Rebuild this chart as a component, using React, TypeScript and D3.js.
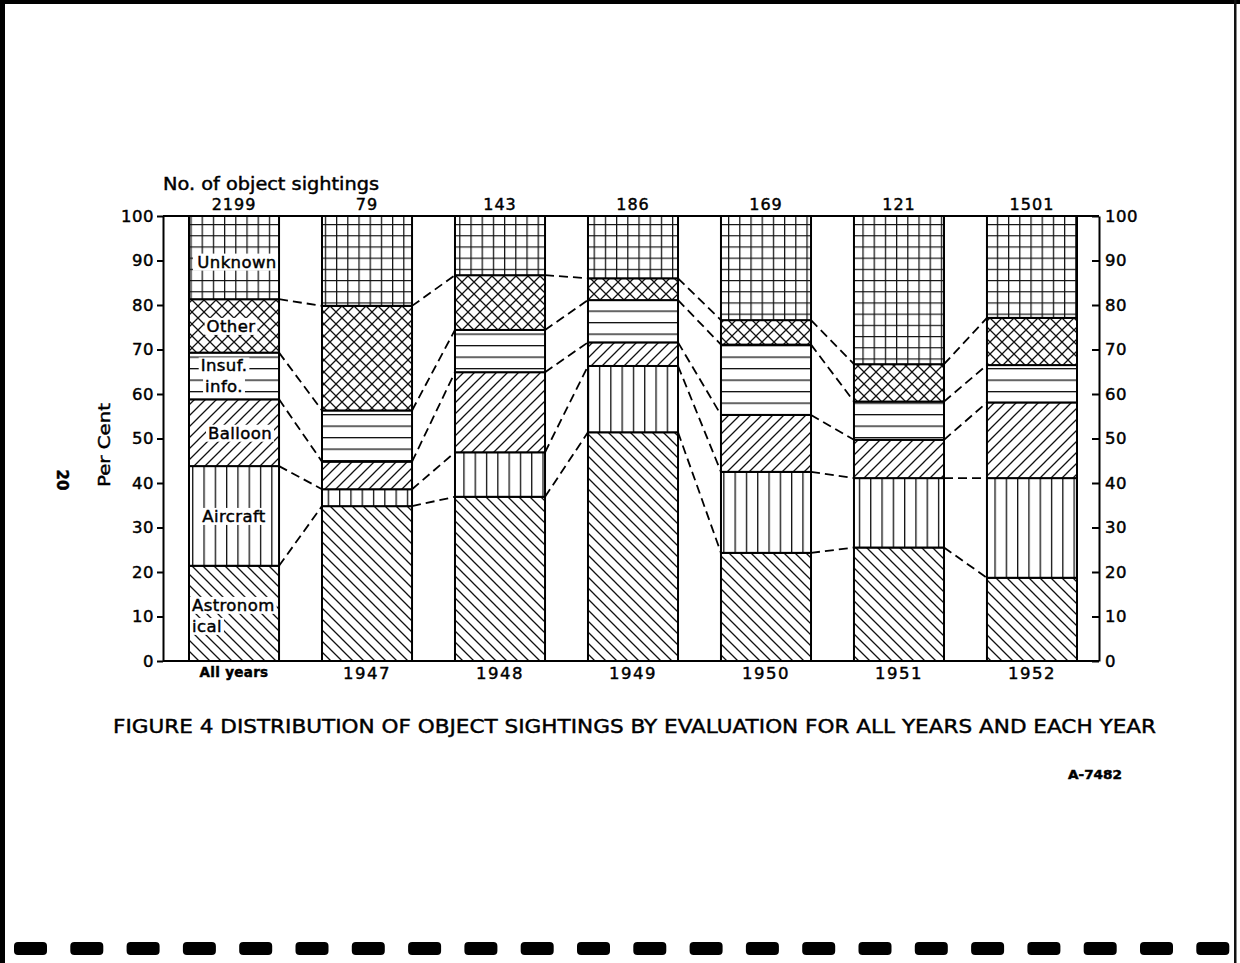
import { useEffect, useRef } from "react"
import * as d3 from "d3"

const categories = ["All years", "1947", "1948", "1949", "1950", "1951", "1952"]
const sightings = [2199, 79, 143, 186, 169, 121, 1501]
const evaluations = ["astronomical", "aircraft", "balloon", "insufficient", "other", "unknown"]

// per cent of sightings in each evaluation, bottom to top
const astronomical = [21.4, 34.8, 36.9, 51.4, 24.3, 25.5, 18.7]
const aircraft = [22.4, 3.8, 10.0, 14.9, 18.2, 15.6, 22.4]
const balloon = [15.0, 6.2, 18.0, 5.3, 12.8, 8.6, 17.0]
const insufficient = [10.5, 11.5, 9.5, 9.5, 15.8, 8.6, 8.4]
const other = [12.0, 23.5, 12.3, 4.9, 5.5, 8.4, 10.6]
const unknown = [18.7, 20.2, 13.3, 14.0, 23.4, 33.3, 22.9]

const yTicks = [0, 10, 20, 30, 40, 50, 60, 70, 80, 90, 100]

// labels written inside the "All years" bar
const segmentLabels = [
  ["Astronom", "ical"],
  ["Aircraft"],
  ["Balloon"],
  ["Insuf.", "info."],
  ["Other"],
  ["Unknown"],
]

const FONT = "'DejaVu Sans', 'Liberation Sans', sans-serif"

export default function App() {
  const svgRef = useRef<SVGSVGElement>(null)

  useEffect(() => {
    if (!svgRef.current) return
    const svg = d3.select(svgRef.current)
    svg.selectAll("*").remove()

    // lettering-guide text is heavier than the plain font
    svg.append("style").text("text { stroke: #000; stroke-width: 0.45px; }")

    const rows = categories.map((c, i) => ({
      category: c,
      astronomical: astronomical[i],
      aircraft: aircraft[i],
      balloon: balloon[i],
      insufficient: insufficient[i],
      other: other[i],
      unknown: unknown[i],
    }))

    const x = d3.scaleBand().domain(categories).range([189, 1077]).paddingInner(0.323).paddingOuter(0)
    const y = d3.scaleLinear().domain([0, 100]).range([661, 216])
    const bw = x.bandwidth()
    const left = 163
    const right = 1099

    const stack = d3.stack<any>().keys(evaluations)
    const layers = stack(rows)

    // hatch patterns
    const defs = svg.append("defs")
    const pattern = (id: string, w: number, h: number, d: string) => {
      const p = defs
        .append("pattern")
        .attr("id", id)
        .attr("patternUnits", "userSpaceOnUse")
        .attr("width", w)
        .attr("height", h)
      p.append("rect").attr("width", w).attr("height", h).attr("fill", "#fff")
      p.append("path").attr("d", d).attr("stroke", "#111").attr("stroke-width", 1.3).attr("fill", "none")
    }
    pattern("astronomical", 11, 11, "M0,0L11,11M-2,9L2,13M9,-2L13,2")
    pattern("aircraft", 11.3, 10, "M0.65,0V10")
    pattern("balloon", 11, 11, "M0,11L11,0M-2,2L2,-2M9,13L13,9")
    pattern("insufficient", 10, 11.5, "M0,0.65H10")
    pattern("other", 12, 12, "M0,0L12,12M12,0L0,12")
    pattern("unknown", 11.2, 11.2, "M0,0.6H11.2M0.6,0V11.2")

    // page edges
    svg.append("rect").attr("width", 1240).attr("height", 963).attr("fill", "#fff")
    svg.append("rect").attr("x", 0).attr("y", 0).attr("width", 5).attr("height", 963).attr("fill", "#000")
    svg.append("rect").attr("x", 0).attr("y", 0).attr("width", 1240).attr("height", 4).attr("fill", "#000")
    svg.append("rect").attr("x", 1234).attr("y", 0).attr("width", 2.5).attr("height", 963).attr("fill", "#111")

    // film strip marks along the bottom
    svg
      .append("g")
      .selectAll("rect")
      .data(d3.range(22))
      .enter()
      .append("rect")
      .attr("x", (i) => 14 + i * 56.3)
      .attr("y", 942)
      .attr("width", 33)
      .attr("height", 13)
      .attr("rx", 4)
      .attr("fill", "#000")

    // frame
    const g = svg.append("g")
    g.append("line").attr("x1", left).attr("x2", right).attr("y1", y(100)).attr("y2", y(100)).attr("stroke", "#000").attr("stroke-width", 2)
    g.append("line").attr("x1", left).attr("x2", right).attr("y1", y(0)).attr("y2", y(0)).attr("stroke", "#000").attr("stroke-width", 2)

    const leftAxis = g
      .append("g")
      .attr("transform", `translate(${left},0)`)
      .call(d3.axisLeft(y).tickValues(yTicks).tickSize(6).tickSizeOuter(0).tickPadding(3))
    const rightAxis = g
      .append("g")
      .attr("transform", `translate(${right},0)`)
      .call(d3.axisRight(y).tickValues(yTicks).tickSize(-7).tickSizeOuter(0).tickPadding(6))
    for (const ax of [leftAxis, rightAxis]) {
      ax.select(".domain").attr("stroke", "#000").attr("stroke-width", 2)
      ax.selectAll(".tick line").attr("stroke", "#000").attr("stroke-width", 2)
      ax.selectAll(".tick text")
        .attr("fill", "#000")
        .attr("font-family", FONT)
        .attr("font-size", 16.5)
        .attr("letter-spacing", 0.5)
    }

    // dashed connectors between segment boundaries of neighbouring bars
    const connectors: { x1: number; y1: number; x2: number; y2: number }[] = []
    layers.slice(0, 5).forEach((layer) => {
      for (let i = 0; i < categories.length - 1; i++) {
        connectors.push({
          x1: (x(categories[i]) as number) + bw,
          y1: y(layer[i][1]),
          x2: x(categories[i + 1]) as number,
          y2: y(layer[i + 1][1]),
        })
      }
    })
    g.append("g")
      .selectAll("line")
      .data(connectors)
      .enter()
      .append("line")
      .attr("x1", (d) => d.x1)
      .attr("y1", (d) => d.y1)
      .attr("x2", (d) => d.x2)
      .attr("y2", (d) => d.y2)
      .attr("stroke", "#000")
      .attr("stroke-width", 1.8)
      .attr("stroke-dasharray", "9,5")

    // stacked segments
    layers.forEach((layer) => {
      g.append("g")
        .selectAll("rect")
        .data(layer)
        .enter()
        .append("rect")
        .attr("x", (d: any) => x(d.data.category) as number)
        .attr("y", (d) => y(d[1]))
        .attr("width", bw)
        .attr("height", (d) => y(d[0]) - y(d[1]))
        .attr("fill", `url(#${layer.key})`)
        .attr("stroke", "#000")
        .attr("stroke-width", 2)
    })

    // segment names in the first bar, on white knock-out boxes
    const x0 = x(categories[0]) as number
    const labelG = g.append("g")
    layers.forEach((layer, k) => {
      const lines = segmentLabels[k]
      const mid = y((layer[0][0] + layer[0][1]) / 2)
      const lh = 21
      lines.forEach((txt, j) => {
        const shift = k === 5 ? 4 : k === 0 ? 2 : 0
        const ty = mid + (j - (lines.length - 1) / 2) * lh + 6 + shift
        const leftAligned = k === 0
        const dx = k === 3 ? -10 : k === 4 ? -3 : k === 2 ? 6 : k === 5 ? 3 : 0
        const t = labelG
          .append("text")
          .attr("x", leftAligned ? x0 + 3 : x0 + bw / 2 + dx)
          .attr("y", ty)
          .attr("text-anchor", leftAligned ? "start" : "middle")
          .attr("font-family", FONT)
          .attr("font-size", 16.5)
          .attr("letter-spacing", 0.4)
          .attr("fill", "#000")
          .text(txt)
        const b = (t.node() as SVGTextElement).getBBox()
        const full = k === 5
        labelG
          .insert("rect", "text")
          .attr("x", full ? x0 + 4 : b.x - 2)
          .attr("y", b.y + 1)
          .attr("width", full ? bw - 5 : b.width + 4)
          .attr("height", b.height - 2)
          .attr("fill", "#fff")
      })
    })

    // counts above the bars
    g.append("g")
      .selectAll("text")
      .data(sightings)
      .enter()
      .append("text")
      .attr("x", (_, i) => (x(categories[i]) as number) + bw / 2)
      .attr("y", 210)
      .attr("text-anchor", "middle")
      .attr("font-family", FONT)
      .attr("font-size", 16)
      .attr("letter-spacing", 1)
      .text((d) => d)

    svg
      .append("text")
      .attr("x", 163)
      .attr("y", 190)
      .attr("font-family", FONT)
      .attr("font-size", 17.5)
      .attr("textLength", 216)
      .attr("lengthAdjust", "spacingAndGlyphs")
      .text("No. of object sightings")

    // category labels under the bars
    g.append("g")
      .selectAll("text")
      .data(categories)
      .enter()
      .append("text")
      .attr("x", (d) => (x(d) as number) + bw / 2)
      .attr("y", (_, i) => (i === 0 ? 677 : 679))
      .attr("text-anchor", "middle")
      .attr("font-family", FONT)
      .attr("font-weight", (_, i) => (i === 0 ? "bold" : "normal"))
      .attr("font-size", (_, i) => (i === 0 ? 13.5 : 16.5))
      .attr("letter-spacing", (_, i) => (i === 0 ? 0.3 : 1.5))
      .text((d) => d)

    svg
      .append("text")
      .attr("transform", "translate(110,445) rotate(-90)")
      .attr("text-anchor", "middle")
      .attr("font-family", FONT)
      .attr("font-size", 16.5)
      .attr("textLength", 84)
      .attr("lengthAdjust", "spacingAndGlyphs")
      .text("Per Cent")

    svg
      .append("text")
      .attr("transform", "translate(57,480) rotate(90)")
      .attr("text-anchor", "middle")
      .attr("font-family", FONT)
      .attr("font-weight", "bold")
      .attr("font-size", 15)
      .text("20")

    svg
      .append("text")
      .attr("x", 113)
      .attr("y", 733)
      .attr("font-family", FONT)
      .attr("font-size", 20)
      .attr("textLength", 1043)
      .attr("lengthAdjust", "spacingAndGlyphs")
      .text("FIGURE 4 DISTRIBUTION OF OBJECT SIGHTINGS  BY EVALUATION FOR ALL YEARS AND EACH YEAR")

    svg
      .append("text")
      .attr("x", 1068)
      .attr("y", 779)
      .attr("font-family", FONT)
      .attr("font-weight", "bold")
      .attr("font-size", 12)
      .attr("textLength", 54)
      .attr("lengthAdjust", "spacingAndGlyphs")
      .text("A-7482")
  }, [])

  return (
    <svg
      ref={svgRef}
      width={1240}
      height={963}
      style={{ position: "absolute", left: 0, top: 0, background: "#fff" }}
    />
  )
}
